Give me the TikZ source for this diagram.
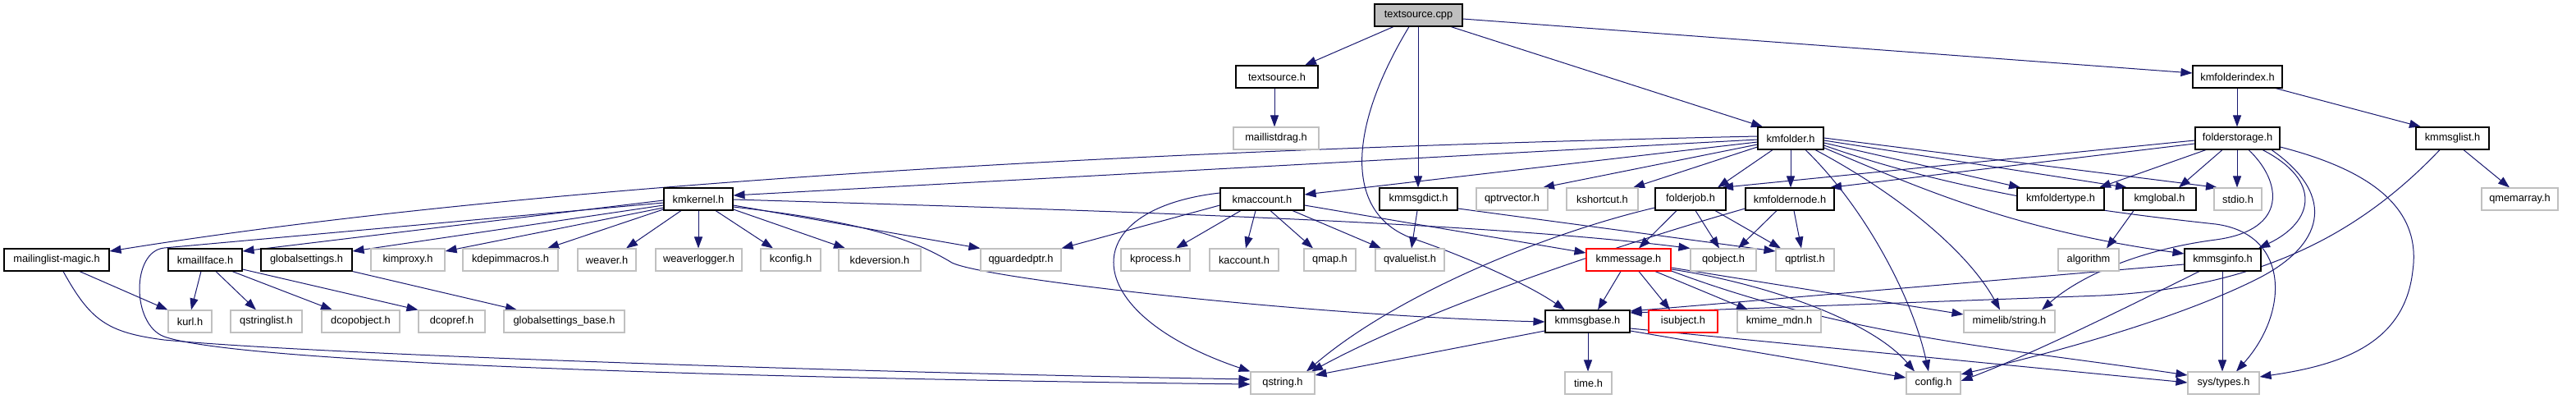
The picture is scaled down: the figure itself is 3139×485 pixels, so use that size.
\documentclass[tikz,border=0pt]{standalone}
\usepackage{fontspec}
\setmainfont{Liberation Sans}
\usetikzlibrary{arrows.meta,backgrounds}
\definecolor{mblue}{HTML}{191970}
\definecolor{extgray}{HTML}{C0C0C0}
\definecolor{maingray}{HTML}{BFBFBF}
\newcommand\graphfont{\fontsize{12.8}{15}\selectfont}
\newcommand\mknode[6]{%
  \pgfmathsetmacro\mkw{#3-#2}%
  \pgfmathsetmacro\mkx{(#2+#3)/2}%
  \pgfmathsetmacro\mky{#4+13.5}%
  \node[#5, minimum width=\mkw pt] (#1) at (\mkx,\mky) {#6};}
\tikzset{
  basebox/.style={draw, minimum height=27pt, inner sep=0pt, font=\graphfont, fill=white, text=black},
  docbox/.style={basebox, draw=black, line width=1.1pt},
  extbox/.style={basebox, draw=extgray, line width=1.1pt},
  redbox/.style={basebox, draw=red, line width=1.1pt},
  mainbox/.style={basebox, draw=black, line width=1.1pt, fill=maingray},
  dep/.style={draw=mblue, line width=1pt, -{Triangle[length=14pt,width=10pt]}, fill=none}
}
\begin{document}
\begin{tikzpicture}[x=1pt,y=-1pt]
\useasboundingbox (0,0) rectangle (3139,485);
% row 0
\mknode{tscpp}{1675}{1782}{5}{mainbox}{textsource.cpp}
% row 1
\mknode{tsh}{1506}{1606}{80}{docbox}{textsource.h}
\mknode{kfi}{2672}{2781}{80}{docbox}{kmfolderindex.h}
% row 2
\mknode{mld}{1503}{1607}{155}{extbox}{maillistdrag.h}
\mknode{kmf}{2142}{2222}{155}{docbox}{kmfolder.h}
\mknode{fs}{2675}{2778}{155}{docbox}{folderstorage.h}
\mknode{kml}{2944}{3033}{155}{docbox}{kmmsglist.h}
% row 3
\mknode{kmk}{809}{893}{229}{docbox}{kmkernel.h}
\mknode{kma}{1487}{1589}{229}{docbox}{kmaccount.h}
\mknode{kmd}{1681}{1776}{229}{docbox}{kmmsgdict.h}
\mknode{qpv}{1799}{1886}{229}{extbox}{qptrvector.h}
\mknode{ksc}{1909}{1996}{229}{extbox}{kshortcut.h}
\mknode{fj}{2017}{2103}{229}{docbox}{folderjob.h}
\mknode{kfn}{2127}{2235}{229}{docbox}{kmfoldernode.h}
\mknode{kft}{2458}{2564}{229}{docbox}{kmfoldertype.h}
\mknode{kmg}{2587}{2676}{229}{docbox}{kmglobal.h}
\mknode{stdio}{2698}{2756}{229}{extbox}{stdio.h}
\mknode{qma}{3024}{3117}{229}{extbox}{qmemarray.h}
% row 4
\mknode{mlm}{5}{133}{303}{docbox}{mailinglist-magic.h}
\mknode{kif}{205}{295}{303}{docbox}{kmailIface.h}
\mknode{gs}{318}{429}{303}{docbox}{globalsettings.h}
\mknode{kim}{452}{542}{303}{extbox}{kimproxy.h}
\mknode{kdm}{564}{680}{303}{extbox}{kdepimmacros.h}
\mknode{wv}{704}{775}{303}{extbox}{weaver.h}
\mknode{wvl}{799}{904}{303}{extbox}{weaverlogger.h}
\mknode{kcf}{927}{1000}{303}{extbox}{kconfig.h}
\mknode{kdv}{1022}{1122}{303}{extbox}{kdeversion.h}
\mknode{qgp}{1195}{1293}{303}{extbox}{qguardedptr.h}
\mknode{kpr}{1366}{1450}{303}{extbox}{kprocess.h}
\mknode{kac}{1474}{1558}{303}{extbox}{kaccount.h}
\mknode{qmap}{1589}{1652}{303}{extbox}{qmap.h}
\mknode{qvl}{1676}{1760}{303}{extbox}{qvaluelist.h}
\mknode{kmm}{1933}{2036}{303}{redbox}{kmmessage.h}
\mknode{qob}{2060}{2140}{303}{extbox}{qobject.h}
\mknode{qpl}{2164}{2235}{303}{extbox}{qptrlist.h}
\mknode{alg}{2508}{2582}{303}{extbox}{algorithm}
\mknode{kmi}{2662}{2755}{303}{docbox}{kmmsginfo.h}
% row 5
\mknode{kurl}{205}{258}{378}{extbox}{kurl.h}
\mknode{qsl}{281}{368}{378}{extbox}{qstringlist.h}
\mknode{dco}{392}{487}{378}{extbox}{dcopobject.h}
\mknode{dcr}{510}{591}{378}{extbox}{dcopref.h}
\mknode{gsb}{614}{761}{378}{extbox}{globalsettings\_base.h}
\mknode{kmb}{1883}{1986}{378}{docbox}{kmmsgbase.h}
\mknode{isu}{2009}{2093}{378}{redbox}{isubject.h}
\mknode{mdn}{2117}{2219}{378}{extbox}{kmime\_mdn.h}
\mknode{mim}{2393}{2504}{378}{extbox}{mimelib/string.h}
% row 6
\mknode{qst}{1524}{1602}{453}{extbox}{qstring.h}
\mknode{tim}{1907}{1964}{453}{extbox}{time.h}
\mknode{cfg}{2323}{2389}{453}{extbox}{config.h}
\mknode{sty}{2666}{2753}{453}{extbox}{sys/types.h}

\begin{scope}[on background layer]
\fill[white] (0,0) rectangle (3139,485);
% textsource.cpp
\draw[dep] (tscpp.south -| 1698,0) -- (tsh.north -| 1590,0);
\draw[dep] (tscpp.south -| 1717,0) .. controls (1640,160) and (1640,260) .. (1720,290) .. controls (1780,310) and (1860,345) .. (kmb.north -| 1907,0);
\draw[dep] (tscpp.south -| 1728,0) -- (kmd.north -| 1728,0);
\draw[dep] (tscpp.south -| 1768,0) -- (kmf.north -| 2148,0);
\draw[dep] (tscpp.east |- 0,23) -- (kfi.west |- 0,89);
\draw[dep] (tsh.south -| 1553,0) -- (mld.north -| 1553,0);
% kmfolderindex / kmmsglist
\draw[dep] (kfi.south -| 2726,0) -- (fs.north -| 2726,0);
\draw[dep] (kfi.south -| 2773,0) -- (kml.north -| 2950,0);
\draw[dep] (kml.south -| 3002,0) -- (qma.north -| 3058,0);
\draw[dep] (kml.south -| 2973,0) .. controls (2880,280) and (2760,350) .. (2560,360) -- (kmb.east |- 0,381);
% kmfolder.h
\draw[dep] (kmf.west |- 0,166) .. controls (1500,180) and (700,215) .. (mlm.east |- 0,306);
\draw[dep] (kmf.west |- 0,170) -- (kmk.east |- 0,238);
\draw[dep] (kmf.west |- 0,173) -- (kma.east |- 0,237);
\draw[dep] (kmf.west |- 0,176) -- (qpv.north -| 1880,0);
\draw[dep] (kmf.west |- 0,179) -- (ksc.north -| 1990,0);
\draw[dep] (kmf.south -| 2160,0) -- (fj.north -| 2093,0);
\draw[dep] (kmf.south -| 2182,0) -- (kfn.north -| 2182,0);
\draw[dep] (kmf.south -| 2200,0) .. controls (2270,250) and (2330,360) .. (cfg.north -| 2350,0);
\draw[dep] (kmf.south -| 2212,0) .. controls (2320,240) and (2400,310) .. (mim.north -| 2437,0);
\draw[dep] (kmf.east |- 0,180) .. controls (2330,225) and (2450,280) .. (kmi.west |- 0,309);
\draw[dep] (kmf.east |- 0,177) .. controls (2400,240) and (2600,262) .. (2700,273) .. controls (2790,285) and (2790,380) .. (sty.north -| 2725,0);
\draw[dep] (kmf.east |- 0,174) -- (kft.north -| 2462,0);
\draw[dep] (kmf.east |- 0,171) -- (kmg.north -| 2592,0);
\draw[dep] (kmf.east |- 0,168) -- (stdio.north -| 2702,0);
% folderstorage.h
\draw[dep] (fs.west |- 0,171) -- (fj.north -| 2098,0);
\draw[dep] (fs.west |- 0,175) -- (kfn.north -| 2230,0);
\draw[dep] (fs.south -| 2688,0) -- (kft.north -| 2558,0);
\draw[dep] (fs.south -| 2708,0) -- (kmg.north -| 2655,0);
\draw[dep] (fs.south -| 2726,0) -- (stdio.north -| 2726,0);
\draw[dep] (fs.south -| 2740,0) .. controls (2780,220) and (2790,280) .. (2700,292) .. controls (2600,305) and (2530,340) .. (mim.north -| 2488,0);
\draw[dep] (fs.south -| 2757,0) .. controls (2830,220) and (2820,270) .. (kmi.north -| 2752,0);
\draw[dep] (fs.south -| 2768,0) .. controls (2850,240) and (2830,300) .. (2750,340) .. controls (2650,390) and (2500,430) .. (cfg.east |- 0,456);
\draw[dep] (fs.east |- 0,179) .. controls (2900,210) and (2950,260) .. (2940,330) .. controls (2930,420) and (2850,445) .. (sty.east |- 0,459);
% kmmsginfo.h
\draw[dep] (kmi.west |- 0,322) -- (kmb.east |- 0,379);
\draw[dep] (kmi.south -| 2680,0) .. controls (2600,370) and (2480,430) .. (cfg.east |- 0,464);
\draw[dep] (kmi.south -| 2708,0) -- (sty.north -| 2708,0);
% kmkernel.h
\draw[dep] (kmk.west |- 0,244) -- (kif.east |- 0,306);
\draw[dep] (kmk.west |- 0,247) -- (200,302) .. controls (160,306) and (160,395) .. (200,410) .. controls (300,445) and (1000,462) .. (qst.west |- 0,468);
\draw[dep] (kmk.west |- 0,250) -- (gs.east |- 0,306);
\draw[dep] (kmk.west |- 0,253) -- (kim.east |- 0,306);
\draw[dep] (kmk.west |- 0,255) -- (kdm.north -| 667,0);
\draw[dep] (kmk.south -| 830,0) -- (wv.north -| 763,0);
\draw[dep] (kmk.south -| 851,0) -- (wvl.north -| 851,0);
\draw[dep] (kmk.south -| 872,0) -- (kcf.north -| 942,0);
\draw[dep] (kmk.east |- 0,255) -- (kdv.north -| 1030,0);
\draw[dep] (kmk.east |- 0,250) -- (qgp.north west);
\draw[dep] (kmk.east |- 0,252) .. controls (1050,270) and (1110,290) .. (1160,320) .. controls (1200,340) and (1600,385) .. (kmb.west |- 0,392);
\draw[dep] (kmk.east |- 0,243) .. controls (1300,255) and (1800,270) .. (qob.north west);
% mailinglist-magic.h, kmailIface.h, globalsettings.h
\draw[dep] (mlm.south -| 97,0) -- (kurl.north west);
\draw[dep] (mlm.south -| 77,0) .. controls (110,390) and (130,405) .. (200,414) .. controls (400,433) and (1100,455) .. (qst.west |- 0,462);
\draw[dep] (kif.south -| 245,0) -- (kurl.north -| 233,0);
\draw[dep] (kif.south -| 263,0) -- (qsl.north -| 312,0);
\draw[dep] (kif.south -| 283,0) -- (dco.north -| 405,0);
\draw[dep] (kif.east |- 0,328) -- (dcr.north west);
\draw[dep] (gs.south east) -- (gsb.north -| 630,0);
% kmaccount.h
\draw[dep] (kma.west |- 0,235) .. controls (1310,255) and (1310,380) .. (qst.north west);
\draw[dep] (kma.west |- 0,250) -- (qgp.north east);
\draw[dep] (kma.south -| 1512,0) -- (kpr.north -| 1433,0);
\draw[dep] (kma.south -| 1530,0) -- (kac.north -| 1518,0);
\draw[dep] (kma.south -| 1548,0) -- (qmap.north -| 1600,0);
\draw[dep] (kma.south -| 1575,0) -- (qvl.north -| 1683,0);
\draw[dep] (kma.east |- 0,250) -- (kmm.west |- 0,308);
% kmmsgdict.h
\draw[dep] (kmd.south -| 1727,0) -- (qvl.north -| 1720,0);
\draw[dep] (kmd.east |- 0,254) -- (qpl.west |- 0,306);
% folderjob.h
\draw[dep] (fj.west |- 0,253) .. controls (1880,285) and (1700,360) .. (qst.north -| 1592,0);
\draw[dep] (fj.south -| 2043,0) -- (kmm.north -| 1997,0);
\draw[dep] (fj.south -| 2066,0) -- (qob.north -| 2095,0);
\draw[dep] (fj.south -| 2090,0) -- (qpl.north -| 2170,0);
% kmfoldernode.h
\draw[dep] (kfn.west |- 0,254) .. controls (2000,290) and (1750,370) .. (qst.north -| 1598,0);
\draw[dep] (kfn.south -| 2165,0) -- (qob.north -| 2118,0);
\draw[dep] (kfn.south -| 2186,0) -- (qpl.north -| 2195,0);
% kmglobal.h
\draw[dep] (kmg.south -| 2600,0) -- (alg.north -| 2567,0);
% kmmessage.h
\draw[dep] (kmm.south -| 1975,0) -- (kmb.north -| 1947,0);
\draw[dep] (kmm.south -| 1997,0) -- (isu.north -| 2035,0);
\draw[dep] (kmm.south -| 2017,0) -- (mdn.north -| 2130,0);
\draw[dep] (kmm.east |- 0,326) -- (mim.west |- 0,383);
\draw[dep] (kmm.east |- 0,328) .. controls (2150,345) and (2280,390) .. (cfg.north -| 2333,0);
\draw[dep] (kmm.east |- 0,330) .. controls (2250,410) and (2450,425) .. (sty.west |- 0,457);
% kmmsgbase.h
\draw[dep] (kmb.west |- 0,403) -- (qst.east |- 0,457);
\draw[dep] (kmb.south -| 1935,0) -- (tim.north -| 1935,0);
\draw[dep] (kmb.east |- 0,403) -- (cfg.west |- 0,460);
\draw[dep] (kmb.east |- 0,400) -- (sty.west |- 0,466);
\end{scope}
\end{tikzpicture}
\end{document}
